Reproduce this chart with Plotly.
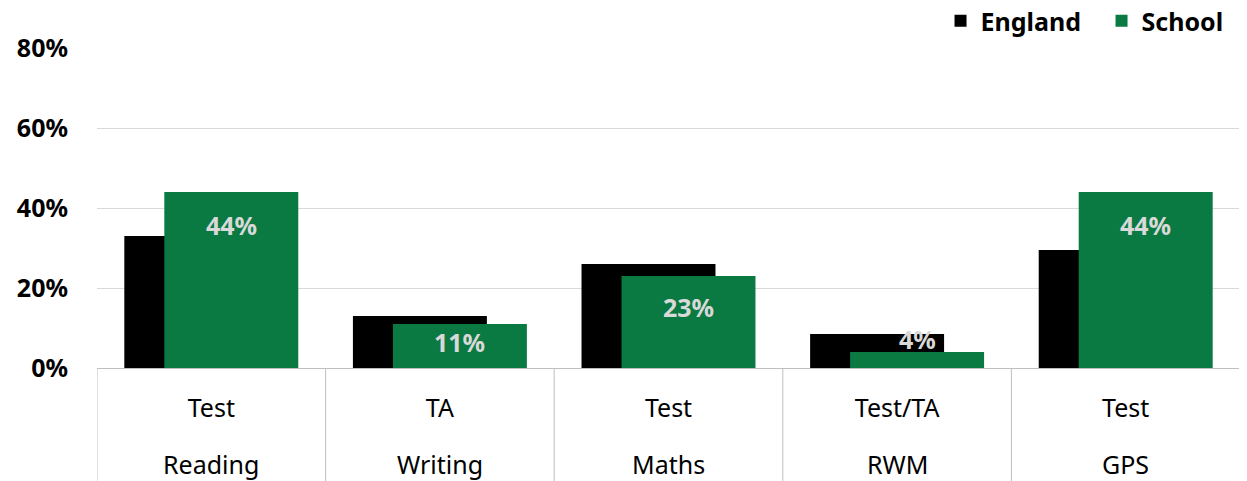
import plotly.graph_objects as go

subjects = ["Reading", "Writing", "Maths", "RWM", "GPS"]
assessments = ["Test", "TA", "Test", "Test/TA", "Test"]
england = [33, 13, 26, 8.5, 29.5]
school = [44, 11, 23, 4, 44]
school_labels = ["44%", "11%", "23%", "4%", "44%"]
# label vertical offset from bar top, in pixels (style only)
label_dy = [-33, -18, -31, 13, -33]
yticks = [0, 20, 40, 60, 80]
ytick_text = ["0%", "20%", "40%", "60%", "80%"]

FONT = "Noto Sans, Open Sans, sans-serif"
FS = 25
W = 0.586
SHIFT = 0.0875
MT, MB = 39, 121
PH = 481 - MT - MB
PW = 1247 - 89 - 15
CAT_PX = PW / len(subjects)

fig = go.Figure()
fig.add_trace(go.Bar(
    x=subjects, y=england, name="England",
    marker=dict(color="#000000", line=dict(width=0)),
    width=W, offset=-SHIFT - W / 2,
))
fig.add_trace(go.Bar(
    x=subjects, y=school, name="School",
    marker=dict(color="#0a7a42", line=dict(width=0)),
    width=W, offset=SHIFT - W / 2,
))

shapes = []
for i in range(len(subjects) + 1):
    shapes.append(dict(type="line", xref="x", yref="paper",
                       x0=i - 0.5, x1=i - 0.5, y0=0, y1=-MB / PH,
                       line=dict(color="#bfbfbf", width=1)))

annotations = []
for s in subjects:
    annotations.append(dict(x=s, xref="x", yref="paper", y=-96 / PH,
                            yanchor="middle", text=s, showarrow=False,
                            font=dict(family=FONT, size=FS, color="#000000")))
for s, v, t, dy in zip(subjects, school, school_labels, label_dy):
    annotations.append(dict(x=s, y=v, xref="x", yref="y", text=t, showarrow=False,
                            xshift=SHIFT * CAT_PX, yshift=dy, yanchor="middle",
                            font=dict(family=FONT, size=FS, color="#d9d9d9", weight="bold")))

fig.update_layout(
    width=1247, height=481,
    margin=dict(l=89, r=15, t=MT, b=MB, autoexpand=False),
    barmode="overlay",
    plot_bgcolor="white", paper_bgcolor="white",
    font=dict(family=FONT, size=FS, color="#000000"),
    showlegend=True,
    legend=dict(orientation="h", x=0.738, xanchor="left",
                y=(481 - MB - 13) / PH, yanchor="middle",
                entrywidth=116,
                font=dict(family=FONT, size=FS, color="#000000", weight="bold"),
                traceorder="normal", bgcolor="rgba(0,0,0,0)"),
    xaxis=dict(
        type="category", range=[-0.5, 4.5], automargin=False,
        tickvals=subjects, ticktext=assessments,
        showline=True, linecolor="#bfbfbf", linewidth=1,
        tickfont=dict(family=FONT, size=FS, color="#000000"),
        showgrid=False, ticks="", ticklabelstandoff=18,
    ),
    yaxis=dict(
        range=[0, 80.25], tickvals=yticks, ticktext=ytick_text, automargin=False,
        showgrid=True, gridcolor="#d9d9d9", gridwidth=1,
        zeroline=False, showline=False, ticks="",
        tickfont=dict(family=FONT, size=FS, color="#000000", weight="bold"),
        ticklabelstandoff=28,
    ),
    shapes=shapes,
    annotations=annotations,
)

fig.write_html("out.html")
